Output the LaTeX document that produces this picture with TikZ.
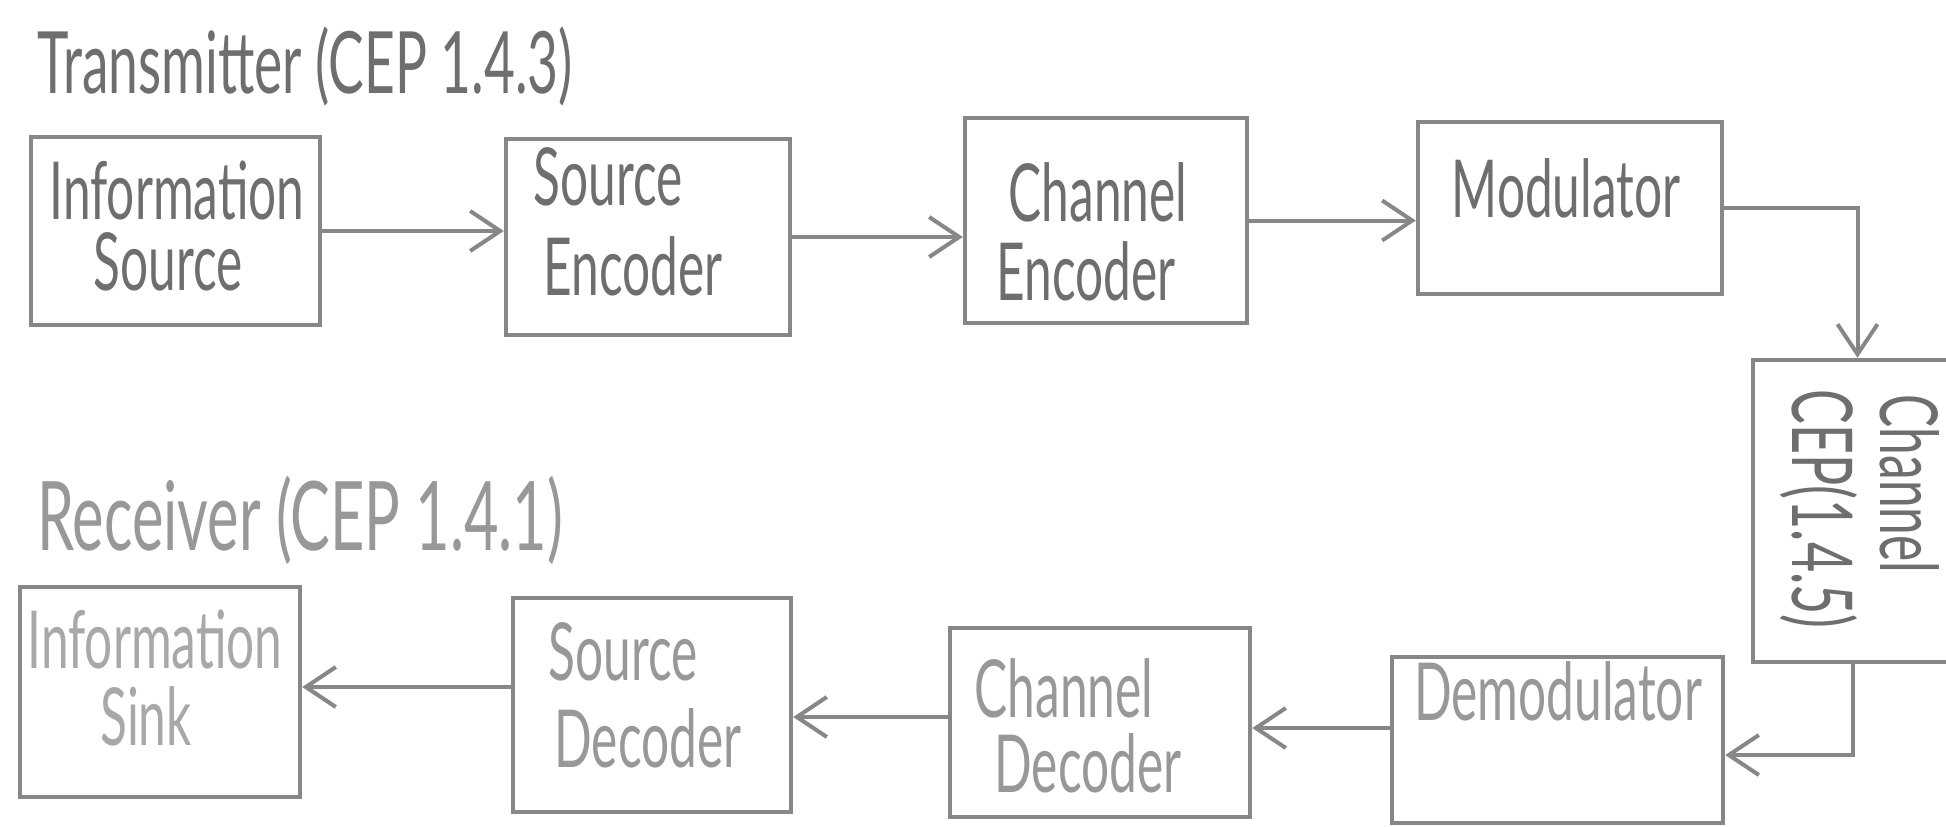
\documentclass[tikz,border=0pt]{standalone}
\usepackage{fontspec}
\usetikzlibrary{arrows.meta,fit}
\newfontfamily\hand[FakeStretch=0.62]{Lato}
\definecolor{pencil}{HTML}{878787}
\definecolor{inkdark}{HTML}{6E6E6E}
\definecolor{inklight}{HTML}{989898}
\definecolor{inkfaint}{HTML}{A8A8A8}
\begin{document}
\begin{tikzpicture}[x=0.5pt,y=-0.5pt,
  box/.style={draw=pencil, line width=2.2pt, rectangle, inner sep=0pt},
  lbl/.style={text=inkdark, font=\hand\fontsize{40}{40}\selectfont, inner sep=0pt, anchor=base},
  ttl/.style={text=inkdark, font=\hand\fontsize{43}{43}\selectfont, inner sep=0pt, anchor=base west},
  conn/.style={draw=pencil, line width=2pt, -{Straight Barb[length=15pt,width=20pt]}},
]
\useasboundingbox (0,0) rectangle (1946,826);
\fill[white] (0,0) rectangle (1946,826);

% titles
\node[ttl] (ttx) at (37,93) {Transmitter\ (CEP 1.4.3)};
\node[ttl, text=inklight, font=\hand\fontsize{48}{48}\selectfont] (trx) at (37,550) {Receiver\ (CEP 1.4.1)};

% transmitter boxes
\node[box, fit={(31,137) (320,325)}] (isrc) {};
\node[box, fit={(506,139) (790,335)}] (senc) {};
\node[box, fit={(965,118) (1247,323)}] (cenc) {};
\node[box, fit={(1418,122) (1722,294)}] (mod) {};
\node[box, fit={(1753,360) (1990,662)}] (chan) {};

% receiver boxes
\node[box, fit={(20,587) (300,797)}] (isink) {};
\node[box, fit={(513,598) (791,812)}] (sdec) {};
\node[box, fit={(950,628) (1250,817)}] (cdec) {};
\node[box, fit={(1392,657) (1723,823)}] (demod) {};

% box texts
\node[lbl] (isrc1) at (177,219) {Information};
\node[lbl] (isrc2) at (168,290) {Source};
\node[lbl] (senc1) at (608,205) {Source};
\node[lbl] (senc2) at (633,295) {Encoder};
\node[lbl] (cenc1) at (1098,221) {Channel};
\node[lbl] (cenc2) at (1086,300) {Encoder};
\node[lbl] (mod1) at (1566,217) {Modulator};
\node[lbl, rotate=-90] (chan1) at (1880,484) {Channel};
\node[lbl, rotate=-90, font=\hand\fontsize{42}{42}\selectfont] (chan2) at (1792,509) {CEP(1.4.5)};

\node[lbl, text=inkfaint] (isink1) at (155,668) {Information};
\node[lbl, text=inkfaint] (isink2) at (146,745) {Sink};
\node[lbl, text=inklight] (sdec1) at (623,680) {Source};
\node[lbl, text=inklight] (sdec2) at (648,767) {Decoder};
\node[lbl, text=inklight] (cdec1) at (1064,717) {Channel};
\node[lbl, text=inklight] (cdec2) at (1088,792) {Decoder};
\node[lbl, text=inklight] (demod1) at (1558,720) {Demodulator};

% connectors
\draw[conn] (isrc.east) -- (senc.west |- isrc.east);
\draw[conn] (senc.east) -- (cenc.west |- senc.east);
\draw[conn] (cenc.east) -- (mod.west |- cenc.east);
\draw[conn] (mod.east) -| ([xshift=-7pt]chan.north);
\draw[conn] ([xshift=-9.5pt]chan.south) |- ([yshift=-7.5pt]demod.east);
\draw[conn] (demod.west |- 0,728) -- (cdec.east |- 0,728);
\draw[conn] (cdec.west |- 0,717) -- (sdec.east |- 0,717);
\draw[conn] (sdec.west |- 0,687) -- (isink.east |- 0,687);
\end{tikzpicture}
\end{document}
